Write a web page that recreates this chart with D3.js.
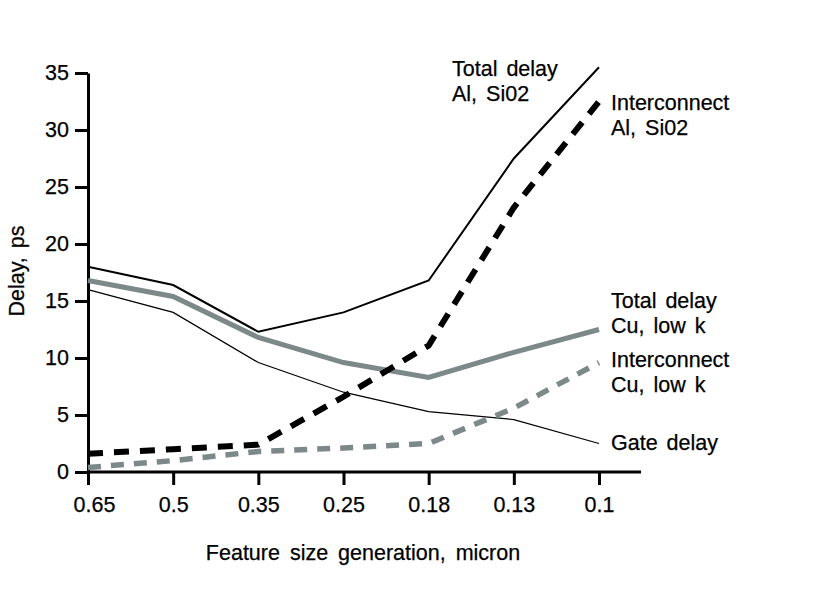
<!DOCTYPE html>
<html>
<head>
<meta charset="utf-8">
<script src="https://cdn.jsdelivr.net/npm/d3@7"></script>
<style>
  body { margin: 0; background: #fff; }
  text { font-family: "Liberation Sans", Arial, sans-serif; fill: #000; stroke: #000; stroke-width: 0.25px; }
</style>
</head>
<body>
<svg id="chart" width="827" height="604"></svg>
<script>
// feature size generations (micron)
var sizes = ["0.65", "0.5", "0.35", "0.25", "0.18", "0.13", "0.1"];
var yTicks = [0, 5, 10, 15, 20, 25, 30, 35];

// delay values, ps
var totalAl = [18.0, 16.4, 12.3, 14.0, 16.8, 27.5, 35.5];
var interAl = [1.6, 2.0, 2.4, 6.6, 11.1, 23.2, 32.5];
var totalCu = [16.8, 15.4, 11.8, 9.6, 8.3, 10.5, 12.5];
var interCu = [0.4, 1.0, 1.8, 2.1, 2.5, 5.6, 9.6];
var gateDelay = [16.0, 14.0, 9.6, 7.0, 5.3, 4.6, 2.5];

var svg = d3.select("#chart");
var gray = "#7d8888";
var fs = "21.5px";

var x = d3.scalePoint().domain(sizes).range([88, 599]);
var y = d3.scaleLinear().domain([0, 35]).range([472, 73]);

// axes
var xAxis = svg.append("g")
  .attr("transform", "translate(0,472)")
  .call(d3.axisBottom(x).tickSize(13).tickSizeOuter(0).tickPadding(12));
xAxis.select(".domain").attr("d", "M88,0H641");
// first label sits a bit right of its tick, clear of the y axis
xAxis.select(".tick text").attr("dx", 6);

var yAxis = svg.append("g")
  .attr("transform", "translate(88,0)")
  .call(d3.axisLeft(y).tickValues(yTicks).tickSize(13).tickSizeOuter(0).tickPadding(6));

svg.selectAll(".domain, .tick line").attr("stroke", "#000").attr("stroke-width", 3);
svg.selectAll(".tick text").style("font-size", fs).attr("fill", "#000");

// axis titles
svg.append("text")
  .attr("x", 363).attr("y", 560)
  .attr("text-anchor", "middle")
  .style("font-size", fs)
  .style("word-spacing", "4px")
  .text("Feature size generation, micron");

svg.append("text")
  .attr("transform", "translate(24,271) rotate(-90)")
  .attr("text-anchor", "middle")
  .style("font-size", fs)
  .style("word-spacing", "3px")
  .text("Delay, ps");

var line = d3.line()
  .x(function(d, i) { return x(sizes[i]); })
  .y(function(d) { return y(d); });

function drawLine(vals, color, width, dash) {
  svg.append("path")
    .datum(vals)
    .attr("fill", "none")
    .attr("stroke", color)
    .attr("stroke-width", width)
    .attr("stroke-dasharray", dash)
    .attr("d", line);
}

drawLine(gateDelay, "#000", 1.2, null);
drawLine(totalCu, gray, 5, null);
drawLine(totalAl, "#000", 2, null);
drawLine(interCu, gray, 5.5, "13,10");
drawLine(interAl, "#000", 6, "15,11");

// series labels
var labels = [
  { x: 452, y: 76, lines: ["Total delay", "Al, Si02"] },
  { x: 611, y: 110, lines: ["Interconnect", "Al, Si02"] },
  { x: 611, y: 308, lines: ["Total delay", "Cu, low k"] },
  { x: 611, y: 367, lines: ["Interconnect", "Cu, low k"] },
  { x: 611, y: 450, lines: ["Gate delay"] }
];

labels.forEach(function(l) {
  var t = svg.append("text")
    .attr("x", l.x).attr("y", l.y)
    .style("font-size", fs)
    .style("word-spacing", "3px");
  l.lines.forEach(function(s, i) {
    t.append("tspan").attr("x", l.x).attr("dy", i === 0 ? 0 : 25).text(s);
  });
});
</script>
</body>
</html>
